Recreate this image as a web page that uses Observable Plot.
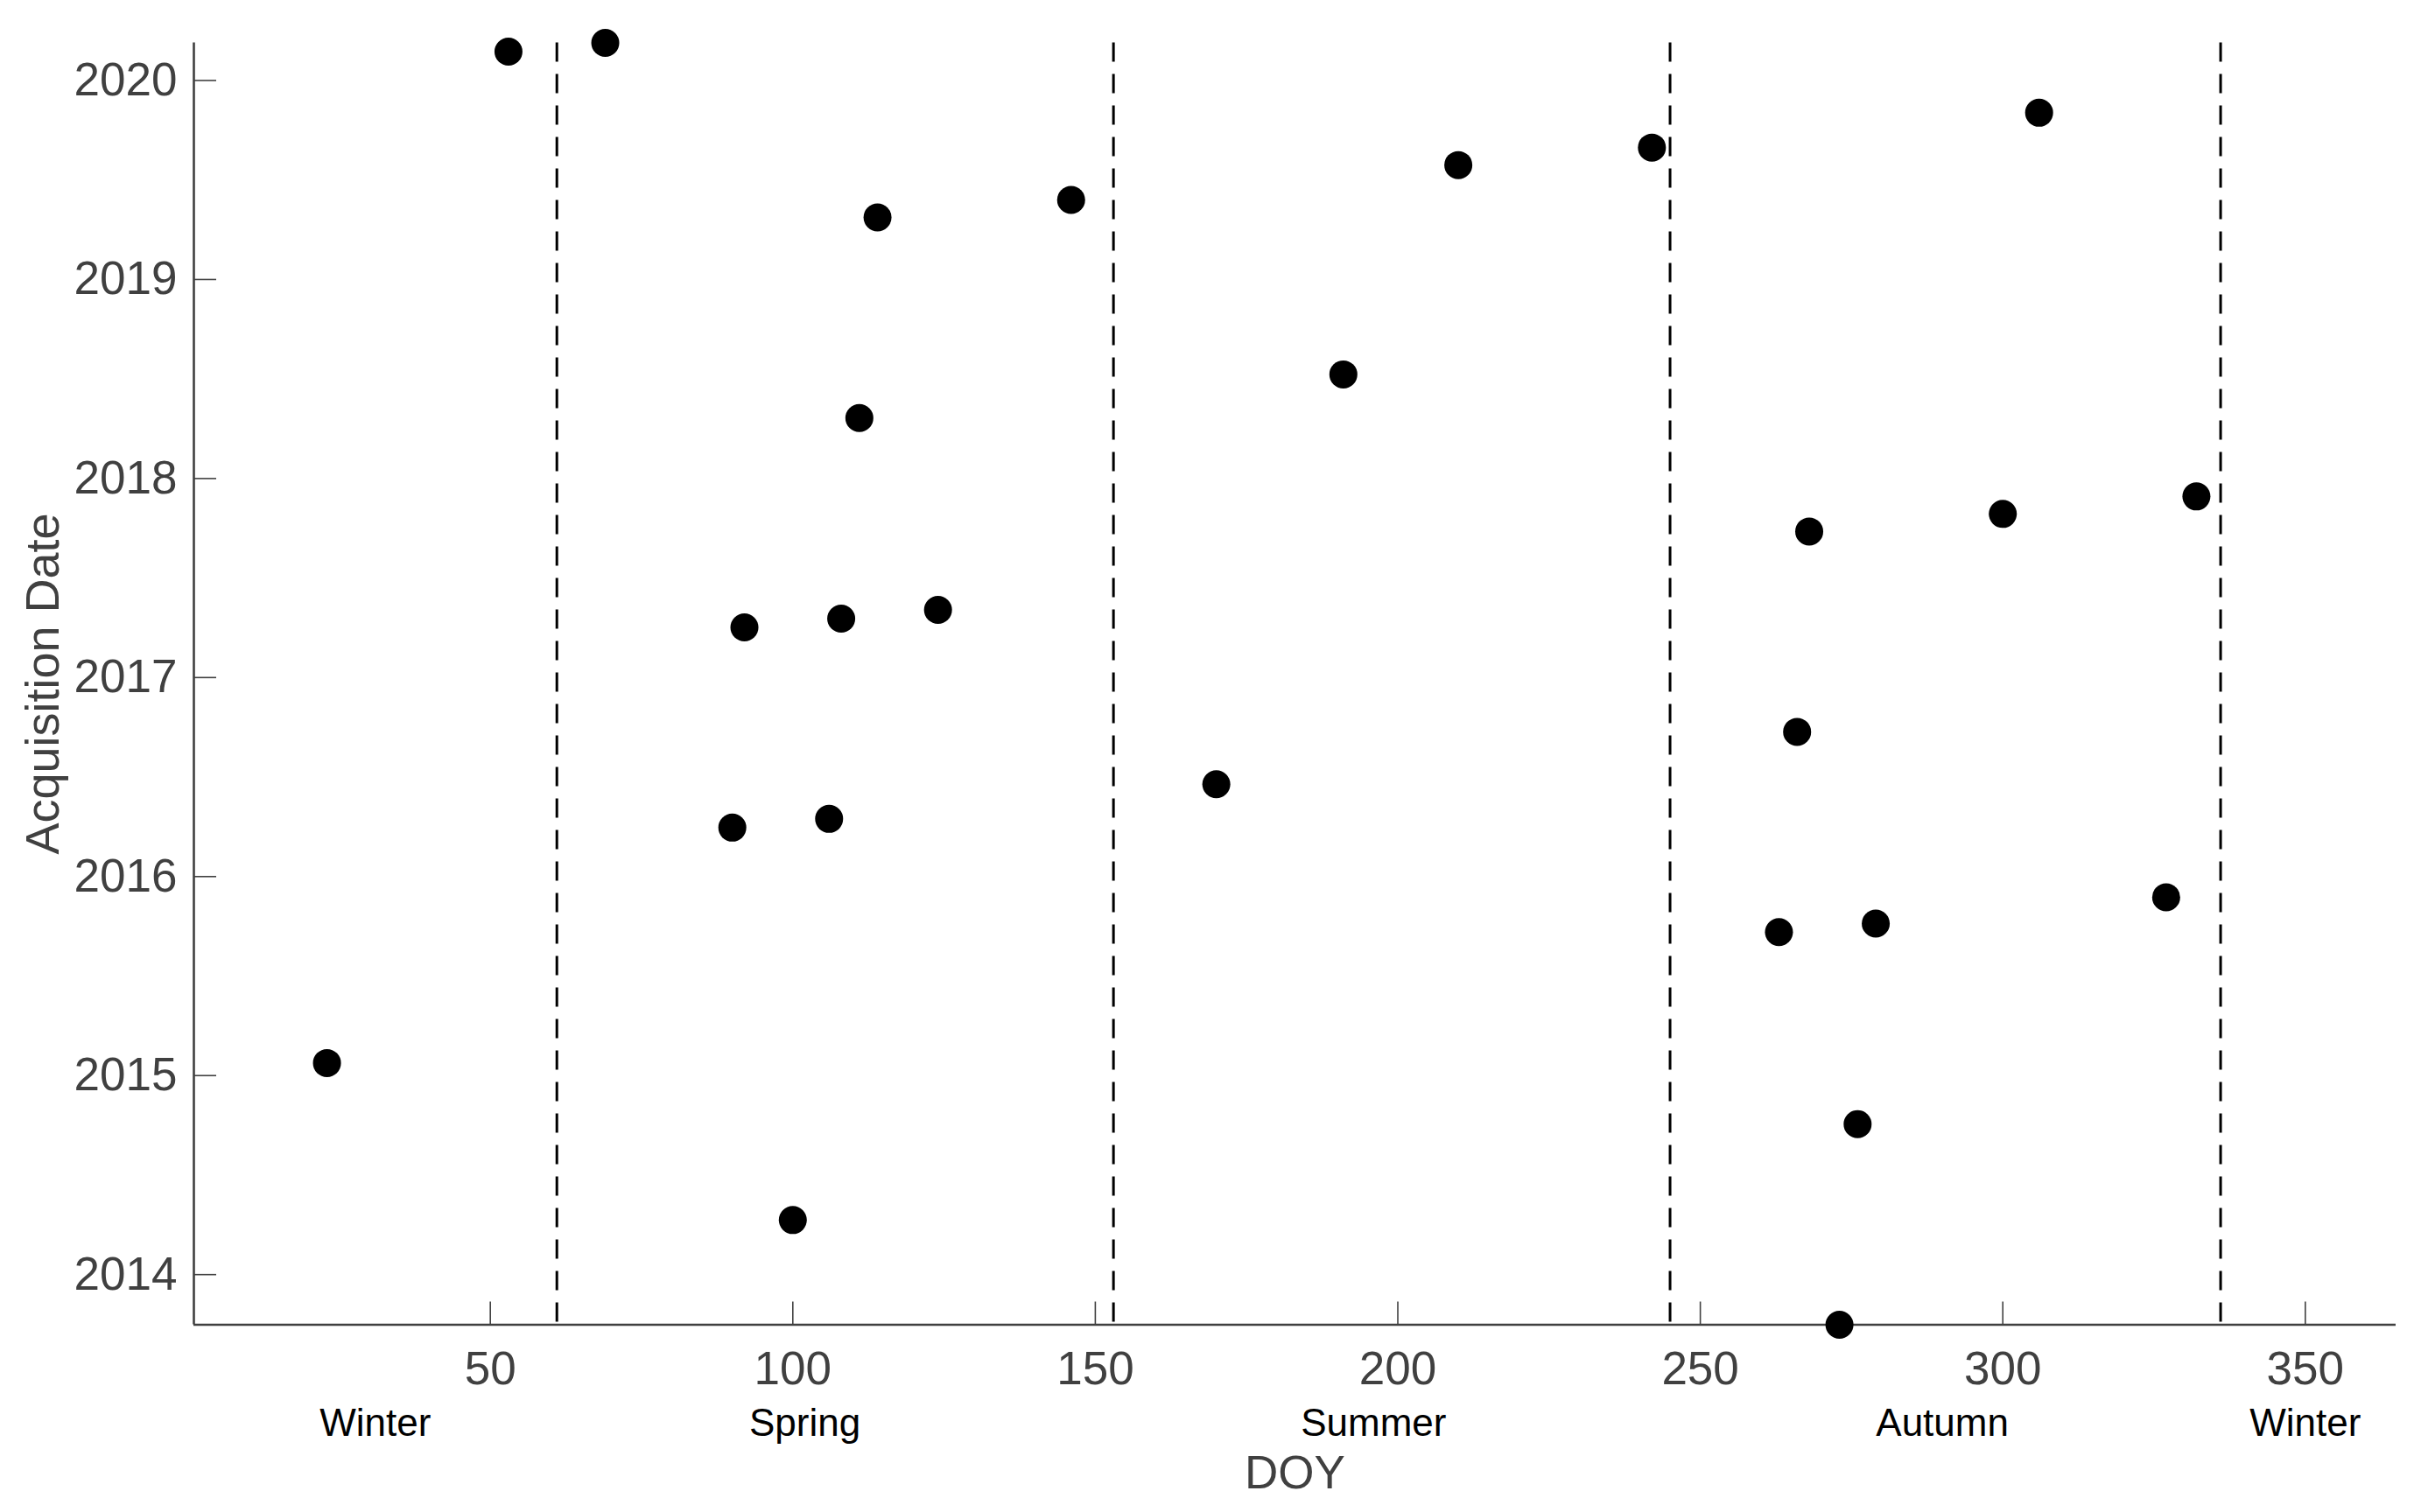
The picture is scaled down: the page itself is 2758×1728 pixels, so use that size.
<!DOCTYPE html>
<html><head><meta charset="utf-8">
<script src="https://cdn.jsdelivr.net/npm/d3@7"></script>
<script src="https://cdn.jsdelivr.net/npm/@observablehq/plot@0.6"></script>
<style>html,body{margin:0;padding:0;background:#fff;} svg{display:block}</style>
</head><body><div id="chart"></div>
<script>
// Day of year of each acquisition
const doy = [53, 69, 114, 146, 210, 242, 306, 111, 191, 268, 300, 332, 92, 108, 124, 90, 106, 170, 266, 263, 279, 327, 23, 276, 100, 273];
// Acquisition date as decimal year
const acquisition = [2020.145, 2020.189, 2019.312, 2019.400, 2019.575, 2019.663, 2019.838, 2018.304, 2018.523, 2017.734, 2017.822, 2017.910, 2017.252, 2017.296, 2017.340, 2016.246, 2016.290, 2016.464, 2016.727, 2015.721, 2015.764, 2015.896, 2015.063, 2014.756, 2014.274, 2013.748];
// Season boundaries (DOY) and labels
const seasonBoundaries = [61, 153, 245, 336];
const seasonNames = ["Winter", "Spring", "Summer", "Autumn", "Winter"];
const seasonLabelDoy = [31, 102, 196, 290, 350];
// Axis ticks
const xTicks = [50, 100, 150, 200, 250, 300, 350];
const yTicks = [2014, 2015, 2016, 2017, 2018, 2019, 2020];
const xDomain = [1, 365];
const xLabel = "DOY";
const yLabel = "Acquisition Date";

const points = doy.map((d, i) => ({doy: d, date: acquisition[i]}));
const yDomain = d3.extent(acquisition);

const W = 2758, H = 1728;
const mT = 48.5, mB = 214.5, mL = 221, mR = 21;
const plotW = W - mL - mR, plotH = H - mT - mB;
const grey = "#404040";

const chart = Plot.plot({
  width: W,
  height: H,
  marginTop: mT,
  marginBottom: mB,
  marginLeft: mL,
  marginRight: mR,
  style: {fontFamily: "'Liberation Sans', Arial, sans-serif", background: "#fff", overflow: "visible"},
  x: {domain: xDomain},
  y: {domain: yDomain},
  marks: [
    Plot.ruleX(seasonBoundaries, {x: d => d, stroke: "black", strokeWidth: 3, strokeDasharray: "22,14"}),
    // inward ticks
    Plot.tickX(xTicks, {x: d => d, insetTop: plotH - 26, stroke: grey, strokeWidth: 1.6}),
    Plot.tickY(yTicks, {y: d => d, insetRight: plotW - 26, stroke: grey, strokeWidth: 1.6}),
    // spines
    Plot.ruleX([xDomain[0]], {x: d => d, stroke: grey, strokeWidth: 2.6}),
    Plot.ruleY([yDomain[0]], {y: d => d, stroke: grey, strokeWidth: 2.6}),
    Plot.axisX(xTicks, {tickSize: 0, tickPadding: 30, fontSize: 53, color: grey, label: null}),
    Plot.axisY(yTicks, {tickSize: 0, tickPadding: 19, fontSize: 53, color: grey, label: null, tickFormat: d => String(d)}),
    Plot.text(seasonNames, {x: (d, i) => seasonLabelDoy[i], text: d => d, frameAnchor: "bottom", dy: 127, lineAnchor: "bottom", fontSize: 44, fill: "black"}),
    Plot.text([xLabel], {text: d => d, frameAnchor: "bottom", dy: 187, lineAnchor: "bottom", fontSize: 53, fill: grey}),
    Plot.text([yLabel], {text: d => d, frameAnchor: "left", textAnchor: "middle", rotate: -90, dx: -155, lineAnchor: "bottom", fontSize: 54, fill: grey}),
    Plot.dot(points, {x: "doy", y: "date", r: 16, fill: "black", stroke: "none"})
  ]
});
document.getElementById("chart").appendChild(chart);
</script>
</body></html>
